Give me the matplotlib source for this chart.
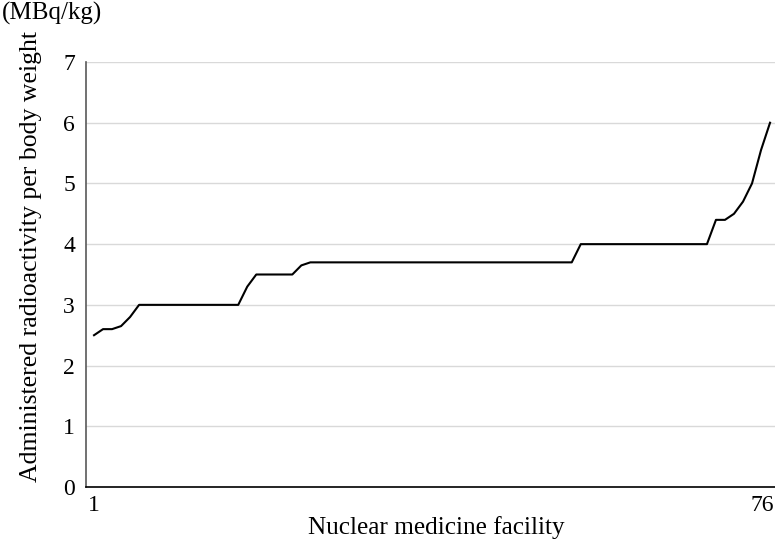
import matplotlib
matplotlib.use("Agg")
import matplotlib.pyplot as plt
from matplotlib.transforms import ScaledTranslation

facility = list(range(1, 77))
activity = [2.5, 2.6, 2.6, 2.65, 2.8,
            3.0, 3.0, 3.0, 3.0, 3.0, 3.0, 3.0, 3.0, 3.0, 3.0, 3.0, 3.0,
            3.3,
            3.5, 3.5, 3.5, 3.5, 3.5,
            3.65,
            3.7, 3.7, 3.7, 3.7, 3.7, 3.7, 3.7, 3.7, 3.7, 3.7,
            3.7, 3.7, 3.7, 3.7, 3.7, 3.7, 3.7, 3.7, 3.7, 3.7,
            3.7, 3.7, 3.7, 3.7, 3.7, 3.7, 3.7, 3.7, 3.7, 3.7,
            4.0, 4.0, 4.0, 4.0, 4.0, 4.0, 4.0, 4.0, 4.0, 4.0,
            4.0, 4.0, 4.0, 4.0, 4.0,
            4.4, 4.4, 4.5, 4.7, 5.0, 5.55, 6.0]
xtick_pos = [1, 76]
xtick_labels = ["1", "76"]
yticks = [0, 1, 2, 3, 4, 5, 6, 7]

plt.rcParams['font.family'] = ['Liberation Serif', 'DejaVu Serif']

fig = plt.figure(figsize=(7.75, 5.43), dpi=100)
ax = fig.add_axes([86/775, 1-487/543, (775-86)/775, (487-62)/543])

ax.plot(facility, activity, color='black', lw=1.5)

ax.set_xlim(0.11, 76.55)
ax.set_ylim(0, 7)
ax.set_yticks(yticks)
ax.set_yticklabels([str(v) for v in yticks], fontsize=17)
ax.set_xticks(xtick_pos)
ax.set_xticklabels(xtick_labels, fontsize=17)
ax.tick_params(axis='both', length=0)
ax.tick_params(axis='y', pad=8)
ax.tick_params(axis='x', pad=6)

# Shift the last label left so it fits in the figure
lbls = ax.get_xticklabels()
lbls[-1].set_transform(lbls[-1].get_transform() +
                       ScaledTranslation(-8/100, 0, fig.dpi_scale_trans))

ax.grid(axis='y', color='#d9d9d9', lw=1)
ax.set_axisbelow(True)
for s in ['top', 'right']:
    ax.spines[s].set_visible(False)
ax.spines['left'].set_color('#595959')
ax.spines['left'].set_linewidth(1.2)
ax.spines['bottom'].set_color('black')
ax.spines['bottom'].set_linewidth(1.2)

fig.text(436/775, 1-528/543, "Nuclear medicine facility",
         ha='center', va='center', fontsize=18.2)
fig.text(31/775, 1-257/543, "Administered radioactivity per body weight",
         rotation=90, ha='center', va='center', fontsize=18.5)
fig.text(2/775, 1-13/543, "(MBq/kg)", ha='left', va='center', fontsize=18)

fig.savefig("out.png", dpi=100)
